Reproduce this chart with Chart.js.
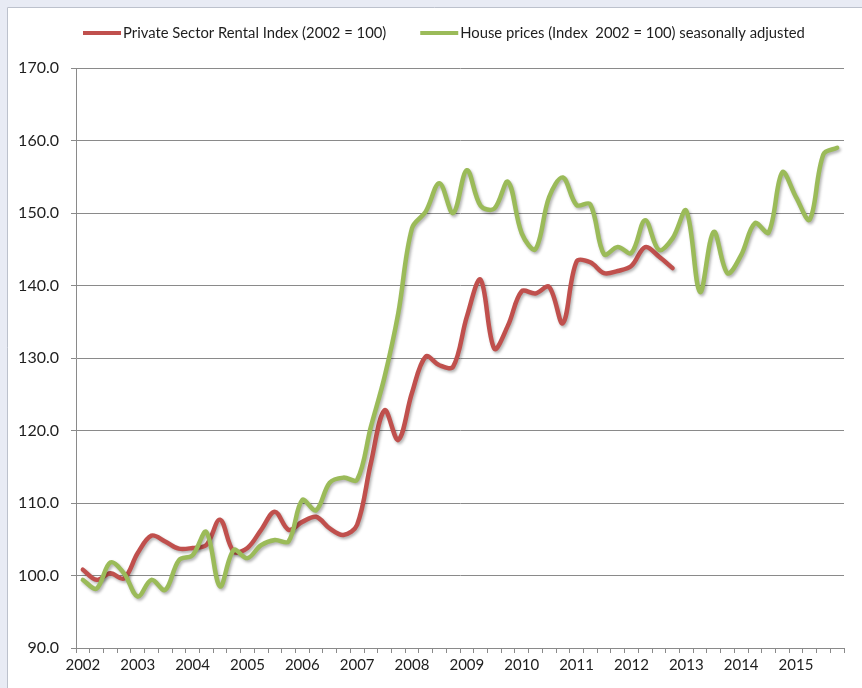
<!DOCTYPE html>
<html>
<head>
<meta charset="utf-8">
<script src="https://cdn.jsdelivr.net/npm/chart.js@4"></script>
<style>
  html, body { margin: 0; padding: 0; background: #e8ebf4; }
  #wrap { position: absolute; left: 0; top: 0; width: 862px; height: 688px; }
</style>
</head>
<body>
<div id="wrap"><canvas id="c" width="862" height="688"></canvas></div>
<script>
// ---- data (quarterly, 2002 Q1 .. 2015 Q4) ----
const years = ['2002','2003','2004','2005','2006','2007','2008','2009','2010','2011','2012','2013','2014','2015'];
const quarters = ['Q1','Q2','Q3','Q4'];
const categories = [];
years.forEach(y => quarters.forEach(q => categories.push(y + ' ' + q)));

const rentalIndex = [
  100.8, 99.4, 100.3, 99.6,
  103.1, 105.5, 104.7, 103.7,
  103.8, 104.2, 107.7, 103.3,
  103.8, 106.3, 108.8, 106.3,
  107.4, 108.1, 106.5, 105.6,
  107.0, 115.5, 122.8, 118.7,
  125.2, 130.2, 129.0, 128.8,
  135.7, 140.8, 131.3, 134.5,
  139.2, 138.9, 139.8, 134.8,
  143.3, 143.2, 141.7, 142.0,
  142.7, 145.3, 144.0, 142.4
];
const housePrices = [
  99.4, 98.2, 101.8, 100.3,
  97.1, 99.4, 98.0, 102.1,
  102.8, 106.0, 98.5, 103.5,
  102.4, 104.2, 104.9, 104.7,
  110.4, 109.0, 112.8, 113.5,
  113.2, 120.5, 127.4, 136.2,
  147.9, 150.2, 154.1, 150.0,
  155.9, 151.0, 150.6, 154.3,
  147.2, 145.0, 152.2, 154.9,
  151.1, 151.2, 144.3, 145.3,
  144.5, 149.0, 144.9, 146.5,
  150.3, 139.1, 147.4, 141.7,
  144.2, 148.6, 147.3, 155.6,
  152.2, 149.1, 158.1, 159.0
];
const seriesNames = ['Private Sector Rental Index (2002 = 100)', 'House prices (Index  2002 = 100) seasonally adjusted'];
const yMin = 90, yMax = 170, yStep = 10;

// ---- styling ----
const RED = '#c0504d', GREEN = '#9bbb59', GRID = '#8a8a8a', TEXT = '#1e1e1e';
const FONT = 'Lato, "Noto Sans", sans-serif';

const backgroundPlugin = {
  id: 'bg',
  beforeDraw(chart) {
    const c = chart.ctx;
    c.save();
    c.fillStyle = '#e8ebf4';
    c.fillRect(0, 0, chart.width, chart.height);
    c.fillStyle = '#ffffff';
    c.fillRect(7, 7, chart.width - 7, chart.height - 7);
    c.strokeStyle = '#bcc1cc';
    c.lineWidth = 1;
    c.beginPath();
    c.moveTo(7.5, chart.height);
    c.lineTo(7.5, 7.5);
    c.lineTo(chart.width, 7.5);
    c.stroke();
    c.restore();
  }
};

const shadowPlugin = {
  id: 'shadow',
  beforeDatasetDraw(chart) {
    const c = chart.ctx;
    c.save();
    c.shadowColor = 'rgba(0,0,0,0.30)';
    c.shadowBlur = 3;
    c.shadowOffsetX = 1.5;
    c.shadowOffsetY = 2;
  },
  afterDatasetDraw(chart) {
    chart.ctx.restore();
  }
};

const legendPlugin = {
  id: 'customLegend',
  afterDraw(chart) {
    const c = chart.ctx;
    c.save();
    c.font = '14.8px ' + FONT;
    c.fillStyle = TEXT;
    c.textBaseline = 'alphabetic';
    let x = 83;
    const yLine = 33, yText = 37.5, sample = 38, gap = 2, spacing = 34;
    chart.data.datasets.forEach(ds => {
      c.strokeStyle = ds.borderColor;
      c.lineWidth = 4;
      c.lineCap = 'butt';
      c.beginPath();
      c.moveTo(x, yLine);
      c.lineTo(x + sample, yLine);
      c.stroke();
      c.fillText(ds.label, x + sample + gap, yText);
      x += sample + gap + c.measureText(ds.label).width + spacing;
    });
    c.restore();
  }
};

new Chart(document.getElementById('c'), {
  type: 'line',
  data: {
    labels: categories,
    datasets: [
      { label: seriesNames[0], data: rentalIndex, borderColor: RED, backgroundColor: RED,
        borderWidth: 4.5, pointRadius: 0, tension: 0.35, fill: false, order: 1,
        borderCapStyle: 'round', borderJoinStyle: 'round' },
      { label: seriesNames[1], data: housePrices, borderColor: GREEN, backgroundColor: GREEN,
        borderWidth: 4.5, pointRadius: 0, tension: 0.35, fill: false, order: 0,
        borderCapStyle: 'round', borderJoinStyle: 'round' }
    ]
  },
  options: {
    responsive: false,
    animation: false,
    layout: { padding: { top: 68, right: 18, left: 0, bottom: 0 } },
    plugins: { legend: { display: false }, tooltip: { enabled: false } },
    scales: {
      x: {
        offset: true,
        grid: { offset: true, drawOnChartArea: false, drawTicks: true, tickLength: 5, color: GRID },
        border: { color: GRID },
        ticks: {
          autoSkip: false, maxRotation: 0, minRotation: 0, padding: 3,
          color: TEXT, font: { family: FONT, size: 15 },
          callback: function (v, i) { return i % 4 === 0 ? years[i / 4] : ''; }
        },
        afterFit(s) { s.height = 40; }
      },
      y: {
        min: yMin, max: yMax,
        grid: { color: GRID, tickLength: 5 },
        border: { color: GRID },
        ticks: {
          stepSize: yStep, padding: 12, color: TEXT, font: { family: FONT, size: 16 },
          callback: v => Number(v).toFixed(1)
        },
        afterFit(s) { s.width = 76; }
      }
    }
  },
  plugins: [backgroundPlugin, shadowPlugin, legendPlugin]
});
</script>
</body>
</html>
